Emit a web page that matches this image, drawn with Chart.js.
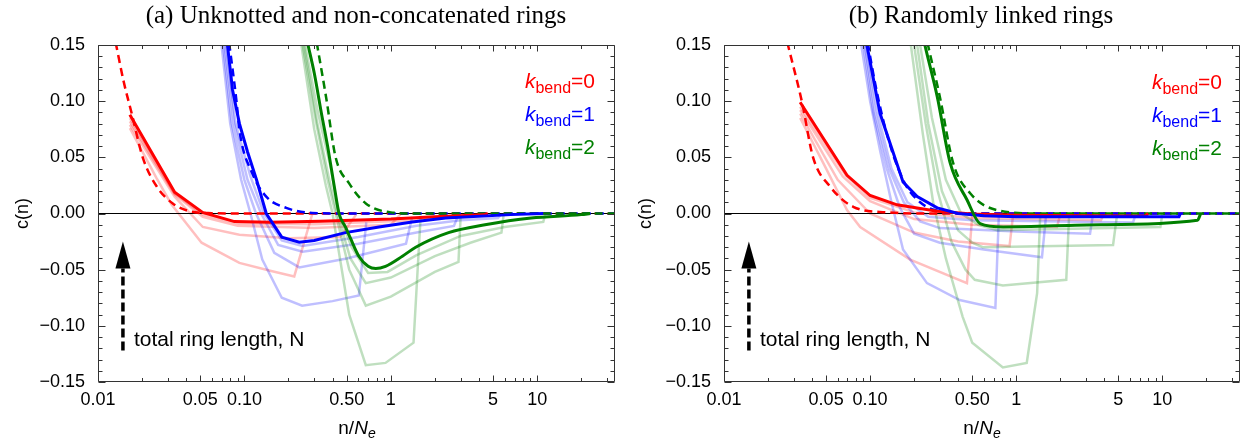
<!DOCTYPE html>
<html>
<head>
<meta charset="utf-8">
<script src="https://cdn.jsdelivr.net/npm/chart.js"></script>
<style>
  body { margin: 0; background: #fff; }
  #page { position: relative; width: 1242px; height: 445px; overflow: hidden; font-family: "Liberation Sans", Arial, sans-serif; color: #000; }
  .box { position: absolute; top: 0; height: 445px; }
  .txt { position: absolute; white-space: nowrap; }
  .title { font-family: "Liberation Serif", "Times New Roman", serif; font-size: 25px; line-height: 25px; transform: translateX(-50%); }
  .leg { font-size: 21px; line-height: 21px; transform: translateX(-100%); }
  .note { font-size: 21px; line-height: 21px; }
  .xlab { font-size: 19px; line-height: 19px; transform: translateX(-50%); }
  .sb { font-size: 16px; position: relative; top: 5px; }
  .xlab .sb { font-size: 14px; top: 4px; }
</style>
</head>
<body>
<div id="page">
  <div class="box" style="left:0;width:620px"><canvas id="chartA"></canvas></div>
  <div class="box" style="left:620px;width:622px"><canvas id="chartB"></canvas></div>

  <div class="txt title" style="left:356px;top:2px">(a) Unknotted and non-concatenated rings</div>
  <div class="txt title" style="left:981px;top:2px">(b) Randomly linked rings</div>

  <div class="txt leg" style="left:595px;top:70px;color:#ff0000"><i>k</i><span class="sb">bend</span>=0</div>
  <div class="txt leg" style="left:595px;top:103px;color:#0000ff"><i>k</i><span class="sb">bend</span>=1</div>
  <div class="txt leg" style="left:595px;top:136px;color:#008000"><i>k</i><span class="sb">bend</span>=2</div>
  <div class="txt leg" style="left:1222px;top:71px;color:#ff0000"><i>k</i><span class="sb">bend</span>=0</div>
  <div class="txt leg" style="left:1222px;top:104px;color:#0000ff"><i>k</i><span class="sb">bend</span>=1</div>
  <div class="txt leg" style="left:1222px;top:137px;color:#008000"><i>k</i><span class="sb">bend</span>=2</div>

  <div class="txt note" style="left:134px;top:328px">total ring length, N</div>
  <div class="txt note" style="left:760px;top:328px">total ring length, N</div>

  <div class="txt xlab" style="left:357px;top:418px">n/<i>N<span class="sb">e</span></i></div>
  <div class="txt xlab" style="left:982px;top:418px">n/<i>N<span class="sb">e</span></i></div>
</div>

<script>
// axis ticks
const xTickValues = [0.01, 0.05, 0.1, 0.5, 1, 5, 10];
const xTickLabels = ['0.01', '0.05', '0.10', '0.50', '1', '5', '10'];
const xMinorTicks = [0.02, 0.03, 0.04, 0.06, 0.07, 0.08, 0.09, 0.2, 0.3, 0.4, 0.6, 0.7, 0.8, 0.9, 2, 3, 4, 6, 7, 8, 9, 20, 30];
const yTickValues = [-0.15, -0.10, -0.05, 0, 0.05, 0.10, 0.15];
const yTickLabels = ['\u22120.15', '\u22120.10', '\u22120.05', '0.00', '0.05', '0.10', '0.15'];

const zeroLine = [[0.01, 0], [34, 0]];

// (a) unknotted, non-concatenated  -- [n/Ne, c(n)]
const aRedTheory = [[0.0121,0.175],[0.0133,0.15],[0.015,0.117],[0.017,0.089],[0.0202,0.050],[0.0252,0.024],[0.0324,0.009],[0.0423,0.002],[0.06,0.0003],[0.1,0],[34,0]];
const aRedMain = [[0.0165,0.088],[0.0334,0.019],[0.0518,0.001],[0.0855,-0.0072],[0.15,-0.0078],[0.33,-0.0068],[1,-0.005],[2,-0.003],[4.3,-0.0012],[4.6,0]];
const aRedN1 = [[0.0165,0.076],[0.025,0.032],[0.0318,0.008],[0.051,-0.026],[0.0924,-0.044],[0.15,-0.051],[0.219,-0.056],[0.29,-0.001]];
const aRedN2 = [[0.0165,0.079],[0.0334,0.015],[0.052,-0.012],[0.0924,-0.019],[0.2,-0.022],[0.45,-0.021],[0.58,-0.001]];
const aRedN3 = [[0.0165,0.082],[0.0334,0.017],[0.052,-0.003],[0.09,-0.011],[0.3,-0.013],[1.0,-0.010],[1.16,-0.001]];
const aRedN4 = [[0.0165,0.085],[0.0334,0.018],[0.052,-0.001],[0.09,-0.009],[0.3,-0.0095],[1.5,-0.006],[2.2,-0.004],[2.3,0]];

const aBlueTheory = [[0.0747,0.175],[0.079,0.15],[0.0883,0.10],[0.0925,0.074],[0.113,0.036],[0.141,0.015],[0.193,0.005],[0.29,0.0005],[0.5,0],[34,0]];
const aBlueMain = [[0.0729,0.175],[0.0766,0.15],[0.083,0.11],[0.0925,0.080],[0.105,0.055],[0.121,0.030],[0.141,0.0],[0.18,-0.021],[0.237,-0.0255],[0.3,-0.024],[0.49,-0.017],[0.83,-0.012],[1.4,-0.0075],[2.37,-0.004],[6.6,-0.001],[11,0]];
const aBlueN1 = [[0.0698,0.15],[0.08,0.08],[0.095,0.03],[0.11,0.0],[0.1325,-0.041],[0.18,-0.075],[0.248,-0.082],[0.4,-0.078],[0.605,-0.073],[0.68,-0.008]];
const aBlueN2 = [[0.0715,0.15],[0.082,0.08],[0.1,0.03],[0.12,0.0],[0.16,-0.035],[0.237,-0.048],[0.5,-0.040],[1.27,-0.027],[1.4,-0.003]];
const aBlueN3 = [[0.073,0.15],[0.085,0.08],[0.105,0.03],[0.13,0.0],[0.17,-0.028],[0.25,-0.034],[0.6,-0.027],[1.5,-0.017],[2.7,-0.011],[2.9,-0.001]];
const aBlueN4 = [[0.075,0.15],[0.087,0.08],[0.11,0.033],[0.136,0.0],[0.18,-0.024],[0.25,-0.029],[0.6,-0.021],[1.5,-0.011],[3,-0.006],[5.4,-0.004],[5.7,0]];

const aGreenTheory = [[0.291,0.175],[0.314,0.15],[0.361,0.104],[0.42,0.05],[0.518,0.027],[0.675,0.009],[1,0.001],[1.5,0],[34,0]];
const aGreenMain = [[0.247,0.175],[0.272,0.15],[0.30,0.125],[0.335,0.09],[0.37,0.06],[0.41,0.025],[0.443,0.0],[0.49,-0.012],[0.53,-0.022],[0.605,-0.038],[0.70,-0.047],[0.79,-0.049],[0.92,-0.047],[1.2,-0.038],[1.48,-0.030],[2.48,-0.017],[4.4,-0.010],[9.1,-0.004],[20,-0.001],[23,0]];
const aGreenN1 = [[0.245,0.15],[0.3,0.075],[0.36,0.025],[0.40,0.0],[0.52,-0.09],[0.675,-0.135],[0.92,-0.133],[1.43,-0.115],[1.6,-0.002]];
const aGreenN2 = [[0.25,0.15],[0.31,0.08],[0.37,0.03],[0.42,0.0],[0.52,-0.05],[0.675,-0.082],[1,-0.074],[2.0,-0.052],[2.9,-0.043],[3.0,-0.002]];
const aGreenN3 = [[0.255,0.15],[0.315,0.08],[0.38,0.03],[0.43,0.0],[0.53,-0.04],[0.675,-0.062],[1,-0.057],[2,-0.038],[3.5,-0.026],[5.7,-0.017],[5.9,-0.001]];
const aGreenN4 = [[0.26,0.15],[0.318,0.09],[0.39,0.04],[0.44,0.0],[0.54,-0.03],[0.7,-0.053],[0.95,-0.052],[1.5,-0.037],[3,-0.02],[6,-0.012],[11,-0.0075],[11.4,0]];

// (b) randomly linked
const bRedTheory = [[0.0246,0.175],[0.0274,0.15],[0.0342,0.099],[0.0407,0.050],[0.0532,0.024],[0.0766,0.006],[0.131,0.001],[0.25,0],[34,0]];
const bRedMain = [[0.0332,0.099],[0.0695,0.034],[0.1,0.016],[0.153,0.0077],[0.288,0.002],[0.5,-0.0005],[1,-0.0015],[3,-0.002],[7.6,-0.0025],[8,0]];
const bRedN1 = [[0.0332,0.085],[0.05,0.04],[0.0695,0.003],[0.0855,-0.012],[0.188,-0.041],[0.46,-0.062],[0.5,-0.002]];
const bRedN2 = [[0.0332,0.089],[0.06,0.03],[0.1,0.0],[0.2,-0.017],[0.4,-0.025],[0.9,-0.029],[0.95,-0.002]];
const bRedN3 = [[0.0332,0.092],[0.065,0.033],[0.1,0.011],[0.2,-0.005],[0.5,-0.010],[1.9,-0.012],[2.0,-0.001]];
const bRedN4 = [[0.0332,0.095],[0.068,0.034],[0.1,0.014],[0.2,0.001],[0.5,-0.004],[3.8,-0.006],[4.0,0]];

const bBlueTheory = [[0.091,0.175],[0.097,0.15],[0.123,0.083],[0.168,0.030],[0.22,0.010],[0.30,0.002],[0.5,0],[34,0]];
const bBlueMain = [[0.089,0.175],[0.095,0.15],[0.117,0.089],[0.168,0.028],[0.21,0.015],[0.288,0.005],[0.4,0.0],[0.6,-0.002],[1,-0.003],[5,-0.003],[13,-0.003],[13.3,0]];
const bBlueN1 = [[0.087,0.15],[0.1,0.10],[0.117,0.056],[0.14,0.01],[0.168,-0.032],[0.245,-0.062],[0.41,-0.077],[0.72,-0.084],[0.76,-0.002]];
const bBlueN2 = [[0.09,0.15],[0.105,0.09],[0.13,0.04],[0.16,0.005],[0.2,-0.018],[0.3,-0.026],[0.6,-0.032],[1.5,-0.039],[1.6,-0.002]];
const bBlueN3 = [[0.092,0.15],[0.108,0.09],[0.135,0.04],[0.17,0.01],[0.22,-0.007],[0.3,-0.013],[1,-0.016],[3.2,-0.018],[3.35,-0.001]];
const bBlueN4 = [[0.094,0.15],[0.112,0.09],[0.14,0.04],[0.18,0.01],[0.25,-0.003],[0.5,-0.006],[6.3,-0.008],[6.6,0]];

const bGreenTheory = [[0.227,0.175],[0.249,0.15],[0.30,0.104],[0.37,0.045],[0.484,0.018],[0.74,0.003],[1.5,0],[34,0]];
const bGreenMain = [[0.215,0.175],[0.237,0.15],[0.288,0.104],[0.353,0.045],[0.461,0.012],[0.566,-0.009],[0.814,-0.012],[3.8,-0.010],[17.4,-0.006],[18.3,0]];
const bGreenN1 = [[0.19,0.15],[0.23,0.07],[0.27,0.01],[0.33,-0.04],[0.43,-0.092],[0.5,-0.115],[0.81,-0.137],[1.18,-0.133],[1.39,-0.071],[1.46,-0.001]];
const bGreenN2 = [[0.2,0.15],[0.24,0.08],[0.29,0.02],[0.36,-0.025],[0.45,-0.05],[0.52,-0.059],[0.81,-0.064],[2.2,-0.059],[2.3,-0.002]];
const bGreenN3 = [[0.21,0.15],[0.25,0.08],[0.31,0.02],[0.4,-0.015],[0.5,-0.026],[0.59,-0.030],[4.6,-0.028],[4.9,-0.001]];
const bGreenN4 = [[0.22,0.15],[0.265,0.085],[0.33,0.03],[0.42,0.0],[0.55,-0.01],[0.74,-0.015],[9.7,-0.012],[10,0]];

const RED = '#ff0000', BLUE = '#0000ff', GREEN = '#008000';
const FAINT = { red: 'rgba(255,0,0,0.25)', blue: 'rgba(0,0,255,0.25)', green: 'rgba(0,128,0,0.25)' };

Chart.defaults.font.family = '"Liberation Sans", Arial, sans-serif';
Chart.defaults.color = '#000';

function pts(arr) {
  return arr.map(p => ({ x: p[0], y: p[1] }));
}

function line(arr, color, kind) {
  const ds = {
    data: pts(arr),
    borderColor: color,
    pointRadius: 0,
    fill: false,
    tension: 0,
    clip: 0,
    borderWidth: 2.5
  };
  if (kind == 'main' || kind == 'smooth') ds.borderWidth = 3;
  if (kind == 'smooth' || kind == 'dash') ds.cubicInterpolationMode = 'monotone';
  if (kind == 'dash') ds.borderDash = [8, 5];
  if (kind == 'zero') ds.borderWidth = 1;
  return ds;
}

// index 0 is drawn on top
function buildDatasets(s) {
  return [
    line(s.greenMain, GREEN, 'smooth'),
    line(s.blueMain, BLUE, 'main'),
    line(s.redMain, RED, 'main'),
    line(s.greenTheory, GREEN, 'dash'),
    line(s.blueTheory, BLUE, 'dash'),
    line(s.redTheory, RED, 'dash'),
    line(zeroLine, '#000', 'zero'),
    ...s.greenN.map(a => line(a, FAINT.green, 'faint')),
    ...s.blueN.map(a => line(a, FAINT.blue, 'faint')),
    ...s.redN.map(a => line(a, FAINT.red, 'faint'))
  ];
}

// frame with inward ticks on all four sides
const frameTicks = {
  id: 'frameTicks',
  afterDatasetsDraw(chart) {
    const { ctx, chartArea: a, scales: { x, y } } = chart;
    const L = Math.round(a.left) + 0.5, R = Math.round(a.right) - 0.5;
    const T = Math.round(a.top) + 0.5, B = Math.round(a.bottom) - 0.5;
    ctx.save();
    ctx.strokeStyle = '#333';
    ctx.lineWidth = 1;
    ctx.beginPath();
    ctx.rect(L, T, R - L, B - T);
    const xt = (v, len) => {
      const p = Math.round(x.getPixelForValue(v)) + 0.5;
      ctx.moveTo(p, B); ctx.lineTo(p, B - len);
      ctx.moveTo(p, T); ctx.lineTo(p, T + len);
    };
    const yt = (v, len) => {
      const p = Math.round(y.getPixelForValue(v)) + 0.5;
      ctx.moveTo(L, p); ctx.lineTo(L + len, p);
      ctx.moveTo(R, p); ctx.lineTo(R - len, p);
    };
    xTickValues.forEach(v => xt(v, 6));
    xMinorTicks.forEach(v => xt(v, 3.5));
    for (let i = 0; i <= 30; i++) {
      yt(-0.15 + i * 0.01, i % 5 == 0 ? 7 : 4);
    }
    ctx.stroke();
    ctx.restore();
  }
};

// dashed arrow "total ring length"
const ringArrow = {
  id: 'ringArrow',
  afterDatasetsDraw(chart, args, opts) {
    const { ctx, scales: { x, y } } = chart;
    const px = x.getPixelForValue(opts.at);
    const yTail = y.getPixelForValue(opts.from);
    const yBase = y.getPixelForValue(opts.head);
    const yTip = y.getPixelForValue(opts.to);
    ctx.save();
    ctx.strokeStyle = '#000';
    ctx.fillStyle = '#000';
    ctx.lineWidth = 3.5;
    ctx.setLineDash([9, 4]);
    ctx.beginPath();
    ctx.moveTo(px, yTail);
    ctx.lineTo(px, yBase);
    ctx.stroke();
    ctx.setLineDash([]);
    ctx.beginPath();
    ctx.moveTo(px, yTip);
    ctx.lineTo(px - 7.5, yBase);
    ctx.lineTo(px + 7.5, yBase);
    ctx.closePath();
    ctx.fill();
    ctx.restore();
  }
};

function makeChart(id, series, yWidth, padRight, titlePad) {
  return new Chart(document.getElementById(id), {
    type: 'line',
    data: { datasets: buildDatasets(series) },
    plugins: [frameTicks, ringArrow],
    options: {
      responsive: true,
      maintainAspectRatio: false,
      animation: false,
      devicePixelRatio: 1,
      layout: { padding: { top: 45, right: padRight, left: 0, bottom: 0 } },
      plugins: {
        legend: { display: false },
        tooltip: { enabled: false },
        ringArrow: { at: 0.0148, from: -0.122, head: -0.049, to: -0.025 }
      },
      scales: {
        x: {
          type: 'logarithmic',
          min: 0.01,
          max: 34,
          grid: { display: false },
          border: { display: false },
          afterBuildTicks: axis => { axis.ticks = xTickValues.map(v => ({ value: v })); },
          afterFit: axis => { axis.height = 63; },
          ticks: {
            autoSkip: false,
            maxRotation: 0,
            padding: -1,
            font: { size: 18 },
            callback: (v, i) => xTickLabels[i]
          }
        },
        y: {
          min: -0.15,
          max: 0.15,
          grid: { display: false },
          border: { display: false },
          afterBuildTicks: axis => { axis.ticks = yTickValues.map(v => ({ value: v })); },
          afterFit: axis => { axis.width = yWidth; },
          ticks: {
            padding: 5,
            font: { size: 18 },
            callback: (v, i) => yTickLabels[i]
          },
          title: {
            display: true,
            text: 'c(n)',
            font: { size: 18 },
            padding: { top: titlePad, bottom: 0 }
          }
        }
      }
    }
  });
}

makeChart('chartA', {
  redTheory: aRedTheory, redMain: aRedMain, redN: [aRedN1, aRedN2, aRedN3, aRedN4],
  blueTheory: aBlueTheory, blueMain: aBlueMain, blueN: [aBlueN1, aBlueN2, aBlueN3, aBlueN4],
  greenTheory: aGreenTheory, greenMain: aGreenMain, greenN: [aGreenN1, aGreenN2, aGreenN3, aGreenN4]
}, 98, 5, 12);

makeChart('chartB', {
  redTheory: bRedTheory, redMain: bRedMain, redN: [bRedN1, bRedN2, bRedN3, bRedN4],
  blueTheory: bBlueTheory, blueMain: bBlueMain, blueN: [bBlueN1, bBlueN2, bBlueN3, bBlueN4],
  greenTheory: bGreenTheory, greenMain: bGreenMain, greenN: [bGreenN1, bGreenN2, bGreenN3, bGreenN4]
}, 104, 2, 15);
</script>
</body>
</html>
